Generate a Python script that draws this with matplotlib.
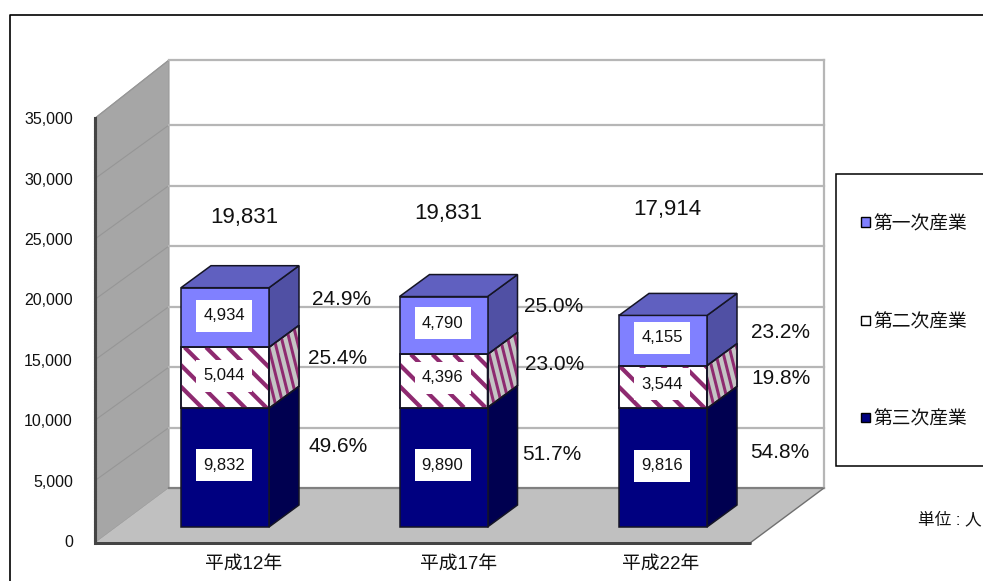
"""Stacked pseudo-3D column chart of workers by industry."""

import matplotlib
matplotlib.use("Agg")
import matplotlib.pyplot as plt
from matplotlib.patches import Polygon, Rectangle

plt.rcParams['font.family'] = ['Liberation Sans', 'Noto Sans CJK JP']

# data
years = ["平成12年", "平成17年", "平成22年"]
tertiary = [9832, 9890, 9816]
secondary = [5044, 4396, 3544]
primary = [4934, 4790, 4155]
totals = ["19,831", "19,831", "17,914"]
pct_tertiary = ["49.6%", "51.7%", "54.8%"]
pct_secondary = ["25.4%", "23.0%", "19.8%"]
pct_primary = ["24.9%", "25.0%", "23.2%"]
legend_names = ["第一次産業", "第二次産業", "第三次産業"]
y_ticks = [0, 5000, 10000, 15000, 20000, 25000, 30000, 35000]

# layout, in image pixels
W, H = 983, 581
Y0 = 541
PX_PER_UNIT = 0.01208
BACK_PX_PER_UNIT = 0.0121
BAR_X = [225, 443.5, 663]
BAR_STEP = 218.5
BAR_HALF = 44
BAR_BASE = 527
DEPTH_X, DEPTH_Y = 30, 22
WALL_X0, WALL_X1, WALL_Y0, WALL_TOP = 169, 824, 488, 60
AXIS_X = 95
FLOOR_Y, FLOOR_X1 = 543, 750
YEAR_X = [244, 459, 661]
TOTAL_POS = [(244, 217), (448, 213), (667, 209)]
PCT_PRIMARY_POS = [(342, 300), (554, 306), (780, 332)]
PCT_SECONDARY_POS = [(338, 359), (555, 365), (781, 379)]
PCT_TERTIARY_POS = [(338, 447), (552, 454), (780, 452)]
BOX_PRIMARY_Y = [315.5, 322.5, 337.5]
BOX_SECONDARY_Y = [375.5, 377.5, 384]
BOX_TERTIARY_Y = [464.5, 465, 465.5]
LEGEND_Y = [222, 320, 417]

# colours
PRI_FRONT, PRI_TOP, PRI_SIDE = "#8080ff", "#6060c0", "#5050a4"
SEC_STRIPE, SEC_SIDE = "#8e2a70", "#c4c4c4"
TER_FRONT, TER_SIDE = "#000080", "#000050"
EDGE = "#151525"
GRID = "#b6b6b6"
WALL = "#a6a6a6"
FLOOR = "#c0c0c0"
AXIS = "#444444"


def dx(px):
    """Image x pixel to category units."""
    return (px - BAR_X[0]) / BAR_STEP


def dy(py):
    """Image y pixel to value units."""
    return (Y0 - py) / PX_PER_UNIT


def pts(coords):
    return [(dx(x), dy(y)) for x, y in coords]


def stripes(ax, patch, x0, x1, y0, y1, spacing, slope, width, color, z):
    """Diagonal stripes clipped to a patch."""
    h = y1 - y0
    x = x0 - h / slope - spacing
    while x < x1 + spacing:
        line, = ax.plot([dx(x), dx(x + h / slope)], [dy(y0), dy(y1)], color=color,
                        lw=width * 0.72, zorder=z, solid_capstyle='butt')
        line.set_clip_path(patch)
        x += spacing


def add_poly(ax, coords, color, z, edge=EDGE, lw=1.1):
    patch = Polygon(pts(coords), closed=True, facecolor=color, edgecolor=edge, lw=lw, zorder=z)
    ax.add_patch(patch)
    return patch


fig = plt.figure(figsize=(W / 100, H / 100), dpi=100)
ax = fig.add_axes([0, 0, 1, 1])
ax.set_xlim(dx(0), dx(W))
ax.set_ylim(dy(H), dy(0))

# outer frame, open on the right and at the bottom
ax.plot([dx(10), dx(10), dx(W + 5)], [dy(H + 5), dy(15), dy(15)], color="black", lw=1.2, zorder=1)

# walls and floor
add_poly(ax, [(AXIS_X, Y0 - 35000 * PX_PER_UNIT), (WALL_X0, WALL_TOP), (WALL_X0, WALL_Y0), (AXIS_X, FLOOR_Y)],
         WALL, 2, edge="#9a9a9a", lw=0.8)
add_poly(ax, [(AXIS_X, FLOOR_Y), (WALL_X0, WALL_Y0), (WALL_X1, WALL_Y0), (FLOOR_X1, FLOOR_Y)],
         FLOOR, 2, edge="none", lw=0)
for v in y_ticks:
    back_y = WALL_TOP if v == y_ticks[-1] else WALL_Y0 - v * BACK_PX_PER_UNIT
    if v > 0:
        ax.plot([dx(AXIS_X), dx(WALL_X0)], [dy(Y0 - v * PX_PER_UNIT), dy(back_y)], color="#969696", lw=0.8, zorder=3)
    ax.plot([dx(WALL_X0), dx(WALL_X1)], [dy(back_y), dy(back_y)], color=GRID if v > 0 else "#808080",
            lw=1.6, zorder=3)
ax.plot([dx(WALL_X1), dx(WALL_X1)], [dy(WALL_TOP), dy(WALL_Y0)], color=GRID, lw=1.6, zorder=3)
ax.plot([dx(WALL_X1), dx(FLOOR_X1)], [dy(WALL_Y0), dy(FLOOR_Y)], color="#707070", lw=1.0, zorder=3)

# percentages sit over the grid
for names, where in [(pct_primary, PCT_PRIMARY_POS), (pct_secondary, PCT_SECONDARY_POS),
                     (pct_tertiary, PCT_TERTIARY_POS)]:
    for name, (x, y) in zip(names, where):
        ax.text(dx(x), dy(y), name, fontsize=15, ha='center', va='center', color="#111111", zorder=4)
for name, (x, y) in zip(totals, TOTAL_POS):
    ax.text(dx(x), dy(y), name, fontsize=16, ha='center', va='center', color="#111111", zorder=4)

# columns
for i in range(len(years)):
    left = BAR_X[i] - BAR_HALF
    right = BAR_X[i] + BAR_HALF
    y_ter = BAR_BASE - tertiary[i] * PX_PER_UNIT
    y_sec = y_ter - secondary[i] * PX_PER_UNIT
    y_pri = y_sec - primary[i] * PX_PER_UNIT

    def side(lo, hi, color):
        return add_poly(ax, [(right, lo), (right + DEPTH_X, lo - DEPTH_Y), (right + DEPTH_X, hi - DEPTH_Y), (right, hi)],
                        color, 5)

    side(BAR_BASE, y_ter, TER_SIDE)
    add_poly(ax, [(left, BAR_BASE), (right, BAR_BASE), (right, y_ter), (left, y_ter)], TER_FRONT, 5)

    sec_side = side(y_ter, y_sec, SEC_SIDE)
    stripes(ax, sec_side, right, right + DEPTH_X, y_sec - DEPTH_Y, y_ter, 7.5, 4.0, 3.0, SEC_STRIPE, 5.1)
    side(y_ter, y_sec, "none")
    ax.patches[-1].set_zorder(5.2)
    sec_front = add_poly(ax, [(left, y_ter), (right, y_ter), (right, y_sec), (left, y_sec)], "white", 5)
    stripes(ax, sec_front, left, right, y_sec, y_ter, 21.5, 1.0, 4.2, SEC_STRIPE, 5.1)
    add_poly(ax, [(left, y_ter), (right, y_ter), (right, y_sec), (left, y_sec)], "none", 5.2)

    side(y_sec, y_pri, PRI_SIDE)
    add_poly(ax, [(left, y_sec), (right, y_sec), (right, y_pri), (left, y_pri)], PRI_FRONT, 5)
    add_poly(ax, [(left, y_pri), (right, y_pri), (right + DEPTH_X, y_pri - DEPTH_Y), (left + DEPTH_X, y_pri - DEPTH_Y)],
             PRI_TOP, 5)

    # value boxes
    for value, y in [(primary[i], BOX_PRIMARY_Y[i]), (secondary[i], BOX_SECONDARY_Y[i]), (tertiary[i], BOX_TERTIARY_Y[i])]:
        ax.add_patch(Rectangle((dx(left + 15), dy(y + 16)), dx(left + 71) - dx(left + 15), dy(y - 16) - dy(y + 16),
                               facecolor="white", edgecolor="none", zorder=6))
        ax.text(dx(BAR_X[i] - 1), dy(y + 0.5), "{:,}".format(value), fontsize=12, ha='center', va='center',
                color="#111111", zorder=7)

# axes
for name in ['top', 'right']:
    ax.spines[name].set_visible(False)
ax.spines['left'].set_position(('data', dx(AXIS_X)))
ax.spines['left'].set_bounds(dy(FLOOR_Y), 35000)
ax.spines['left'].set_color(AXIS)
ax.spines['left'].set_linewidth(2.2)
ax.spines['left'].set_linestyle((0, (0.6, 0.3)))
ax.spines['left'].set_zorder(4)
ax.spines['bottom'].set_position(('data', dy(FLOOR_Y)))
ax.spines['bottom'].set_bounds(dx(AXIS_X), dx(FLOOR_X1))
ax.spines['bottom'].set_color(AXIS)
ax.spines['bottom'].set_linewidth(1.8)
ax.spines['bottom'].set_linestyle((0, (0.6, 0.3)))
ax.spines['bottom'].set_zorder(4)
ax.set_yticks(y_ticks)
ax.set_yticklabels(["{:,}".format(v) for v in y_ticks], fontsize=11.5, color="#111111")
ax.tick_params(axis='y', direction='in', length=3.5, width=1.0, color="black", pad=16)
ax.set_xticks([dx(x) for x in YEAR_X])
ax.set_xticklabels(years, fontsize=13.5, color="#111111")
ax.tick_params(axis='x', length=0, pad=9)

# legend box, cut off by the image edge
ax.add_patch(Rectangle((dx(836), dy(466)), dx(W + 10) - dx(836), dy(174) - dy(466), facecolor="white",
                       edgecolor="black", lw=1.1, zorder=6))
for name, y, color in zip(legend_names, LEGEND_Y, [PRI_FRONT, "white", TER_FRONT]):
    ax.add_patch(Rectangle((dx(861), dy(y + 4.5)), dx(870) - dx(861), dy(y - 4.5) - dy(y + 4.5),
                           facecolor=color, edgecolor="black", lw=1.0, zorder=7))
    ax.text(dx(873), dy(y + 3), name, fontsize=13.5, ha='left', va='center', color="#111111", zorder=7)
ax.text(dx(950), dy(519), "単位 : 人", fontsize=12, ha='center', va='center', color="#111111", zorder=7)

fig.savefig("out.png", dpi=100)
